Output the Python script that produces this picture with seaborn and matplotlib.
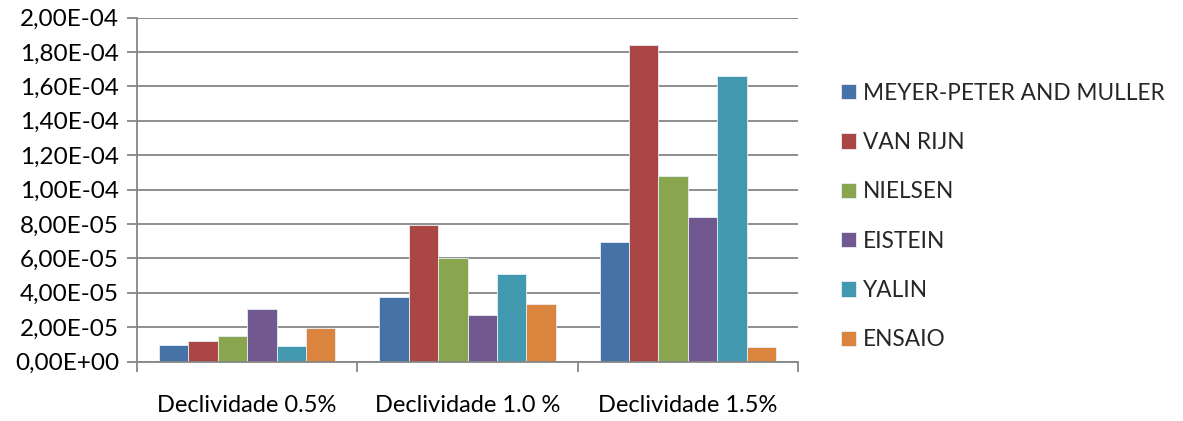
import matplotlib
matplotlib.use("Agg")
import matplotlib.pyplot as plt
import matplotlib.ticker as mticker
import seaborn as sns
import pandas as pd

# Sediment transport rates per slope, by method
categories = ["Declividade 0.5%", "Declividade 1.0 %", "Declividade 1.5%"]
methods = ["MEYER-PETER AND MULLER", "VAN RIJN", "NIELSEN", "EISTEIN", "YALIN", "ENSAIO"]
meyer_peter = [0.95e-5, 3.76e-5, 6.94e-5]
van_rijn = [1.19e-5, 7.92e-5, 1.84e-4]
nielsen = [1.47e-5, 6.00e-5, 1.08e-4]
eistein = [3.06e-5, 2.70e-5, 8.42e-5]
yalin = [0.92e-5, 5.08e-5, 1.66e-4]
ensaio = [1.96e-5, 3.35e-5, 0.84e-5]
y_ticks = [i * 2e-5 for i in range(11)]

colors = ["#4572A7", "#AA4643", "#89A54E", "#71588F", "#4198AF", "#DB843D"]

series = [meyer_peter, van_rijn, nielsen, eistein, yalin, ensaio]
rows = []
for name, vals in zip(methods, series):
    for cat, v in zip(categories, vals):
        rows.append({"categoria": cat, "metodo": name, "valor": v})
df = pd.DataFrame(rows)

sns.set_theme(style="white")
plt.rcParams["font.family"] = ["Lato", "DejaVu Sans"]

fig = plt.figure(figsize=(11.83, 4.21), dpi=100)
ax = fig.add_axes([137 / 1183, 1 - 361.5 / 421, (798 - 137) / 1183, (361.5 - 17.5) / 421])

sns.barplot(data=df, x="categoria", y="valor", hue="metodo", order=categories,
            hue_order=methods, palette=colors, saturation=1, width=0.8, ax=ax,
            edgecolor="#e8eef5", linewidth=0.6, legend=True)

grid_c = "#868686"
ax.set_ylim(0, 2e-4)
ax.set_xlim(-0.5, 2.5)
ax.set_yticks(y_ticks)
ax.yaxis.set_major_formatter(mticker.FuncFormatter(lambda v, p: f"{v:.2E}".replace(".", ",")))
ax.yaxis.grid(True, color=grid_c, linewidth=1.3)
ax.set_axisbelow(True)
ax.set_xlabel("")
ax.set_ylabel("")

for s in ["top", "right"]:
    ax.spines[s].set_visible(False)
for s in ["left", "bottom"]:
    ax.spines[s].set_color(grid_c)
    ax.spines[s].set_linewidth(1.3)

ax.tick_params(axis="y", which="major", left=True, length=7, width=1.3, color=grid_c,
               labelsize=17.5, labelcolor="#000000", pad=6)
ax.tick_params(axis="x", which="major", length=0, labelsize=17, labelcolor="#000000", pad=24)
ax.set_xticks([-0.5, 0.5, 1.5, 2.5], minor=True)
ax.tick_params(axis="x", which="minor", bottom=True, length=7, width=1.3, color=grid_c)

handles, labels = ax.get_legend_handles_labels()
ax.get_legend().remove()
fig.legend(handles, labels, loc="center left", bbox_to_anchor=(841 / 1183, 1 - 216.5 / 421),
           frameon=False, fontsize=16.3, handlelength=0.66, handleheight=0.66,
           handletextpad=0.32, labelspacing=1.25, borderaxespad=0, borderpad=0)

fig.savefig("out.png", dpi=100, facecolor="white")
